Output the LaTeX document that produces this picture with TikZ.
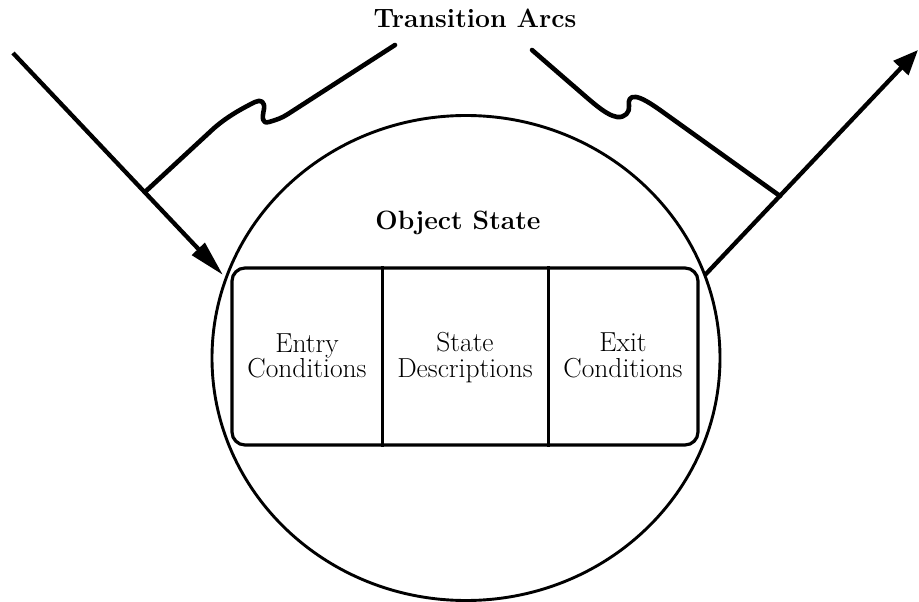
\documentclass[tikz,border=0pt]{standalone}
\usepackage{fontspec}
\usetikzlibrary{shapes.geometric,arrows.meta}
\begin{document}
\begin{tikzpicture}[x=1pt,y=-1pt,
  thinline/.style={line width=2.9pt},
  boxline/.style={line width=3.2pt},
  arcline/.style={line width=4.3pt},
  bracel/.style={line width=4.6pt, line cap=round, line join=round},
  title/.style={font=\fontsize{26.5}{30}\selectfont\bfseries\addfontfeature{FakeBold=1.2}, inner sep=0pt, anchor=base},
  celltext/.style={font=\fontsize{27.5}{30}\selectfont\addfontfeature{FakeBold=0.9}, inner sep=0pt, anchor=base}]
\useasboundingbox (0,0) rectangle (919,602);
% object state ellipse
\node[draw, thinline, ellipse, inner sep=0pt, minimum width=508pt, minimum height=485pt] (state) at (466,358) {};
% the box
\node[draw, boxline, rounded corners=13pt, inner sep=0pt, minimum width=466pt, minimum height=177pt] (box) at (465,356.5) {};
\coordinate (d1) at (382,356);
\coordinate (d2) at (548,356);
\draw[line width=3pt] (d1 |- box.north) -- (d1 |- box.south);
\draw[line width=3pt] (d2 |- box.north) -- (d2 |- box.south);
% texts
\node[title] (ta) at (475,28) {Transition Arcs};
\node[title] (os) at (458,229) {Object State};
\node[celltext] (en1) at (307,352) {Entry};
\node[celltext] (en2) at (307,377) {Conditions};
\node[celltext] (sd1) at (465,351) {State};
\node[celltext] (sd2) at (465,377) {Descriptions};
\node[celltext] (ex1) at (623,351) {Exit};
\node[celltext] (ex2) at (623,377) {Conditions};
% arrows
\coordinate (inS) at (13,53);
\coordinate (inT) at (223,275);
\coordinate (outS) at (705,275);
\coordinate (outT) at (918,50);
\draw[arcline, -{Triangle[length=36pt,width=17pt]}] (inS) -- (inT);
\draw[arcline, -{Triangle[length=25pt,width=20pt]}] (outS) -- (outT);
% braces
\coordinate (jl) at (145,192);
\coordinate (jr) at (780,196);
\coordinate (bl) at (395,45);
\coordinate (br) at (532,50);
\draw[bracel] (jl) -- (212,130) .. controls (226,117) and (243,108) .. (255,102)
  .. controls (261,99) and (265,102) .. (264,109)
  .. controls (262,118) and (262,124) .. (269,122)
  .. controls (276,120) and (282,118) .. (288,114) -- (bl);
\draw[bracel] (br) -- (570,83) .. controls (590,100) and (605,115) .. (617,117)
  .. controls (625,118) and (630,112) .. (629,106)
  .. controls (628,100) and (630,96) .. (636,97)
  .. controls (642,98) and (650,103) .. (660,110) -- (jr);
\end{tikzpicture}
\end{document}
